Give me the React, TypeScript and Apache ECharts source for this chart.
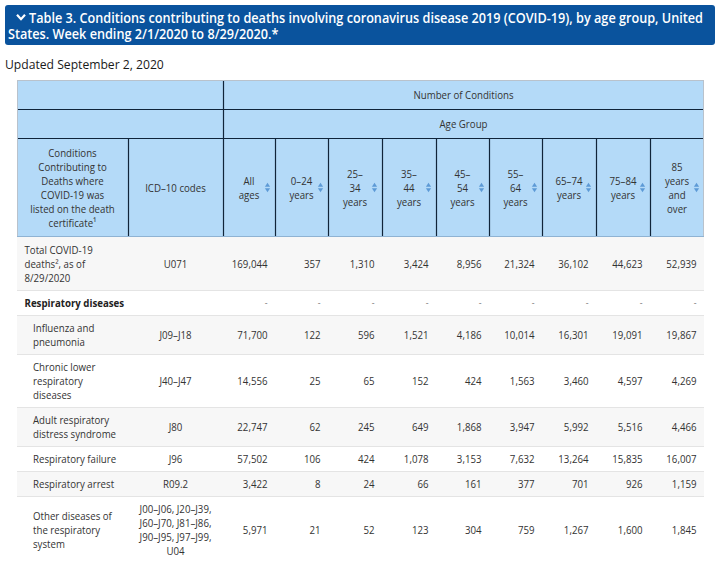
import React, { useEffect, useRef } from "react";
import * as echarts from "echarts";

const titleLine1 =
  "Table 3. Conditions contributing to deaths involving coronavirus disease 2019 (COVID-19), by age group, United";
const titleLine2 = "States. Week ending 2/1/2020 to 8/29/2020.*";
const updatedText = "Updated September 2, 2020";
const topHeader = "Number of Conditions";
const groupHeader = "Age Group";
const columnHeaders = [
  "Conditions\nContributing to\nDeaths where\nCOVID-19 was\nlisted on the death\ncertificate¹",
  "ICD–10 codes",
  "All\nages",
  "0–24\nyears",
  "25–\n34\nyears",
  "35–\n44\nyears",
  "45–\n54\nyears",
  "55–\n64\nyears",
  "65–74\nyears",
  "75–84\nyears",
  "85\nyears\nand\nover",
];
const conditions = [
  "Total COVID-19\ndeaths², as of\n8/29/2020",
  "Respiratory diseases",
  "Influenza and\npneumonia",
  "Chronic lower\nrespiratory\ndiseases",
  "Adult respiratory\ndistress syndrome",
  "Respiratory failure",
  "Respiratory arrest",
  "Other diseases of\nthe respiratory\nsystem",
];
const isSubRow = [false, false, true, true, true, true, true, true];
const isGroupRow = [false, true, false, false, false, false, false, false];
const icdCodes = [
  "U071",
  "",
  "J09–J18",
  "J40–J47",
  "J80",
  "J96",
  "R09.2",
  "J00–J06, J20–J39,\nJ60–J70, J81–J86,\nJ90–J95, J97–J99,\nU04",
];
const allAges = [169044, null, 71700, 14556, 22747, 57502, 3422, 5971];
const ages0to24 = [357, null, 122, 25, 62, 106, 8, 21];
const ages25to34 = [1310, null, 596, 65, 245, 424, 24, 52];
const ages35to44 = [3424, null, 1521, 152, 649, 1078, 66, 123];
const ages45to54 = [8956, null, 4186, 424, 1868, 3153, 161, 304];
const ages55to64 = [21324, null, 10014, 1563, 3947, 7632, 377, 759];
const ages65to74 = [36102, null, 16301, 3460, 5992, 13264, 701, 1267];
const ages75to84 = [44623, null, 19091, 4597, 5516, 15835, 926, 1600];
const ages85plus = [52939, null, 19867, 4269, 4466, 16007, 1159, 1845];

const valueColumns = [
  allAges,
  ages0to24,
  ages25to34,
  ages35to44,
  ages45to54,
  ages55to64,
  ages65to74,
  ages75to84,
  ages85plus,
];

// layout
const colEdges = [17, 128, 223, 275, 328, 382, 436, 489, 542, 596, 650, 704];
const headerEdges = [80, 109, 138, 237];
const LINE_H = 14;
const FONT = "'Open Sans', sans-serif";
const SX = 0.88;
const HEADER_BG = "#b4daf8";
const HEADER_LINE = "#10243a";
const OUTER_LINE = "#b9c2cc";
const TEXT = "#333333";

function txt(
  x: number,
  y: number,
  text: string,
  opts: { align?: string; size?: number; weight?: any; fill?: string; lh?: number; sx?: number } = {}
) {
  const align = opts.align || "left";
  return {
    type: "text",
    x,
    y,
    scaleX: opts.sx || SX,
    silent: true,
    style: {
      text,
      x: 0,
      y: 0,
      fill: opts.fill || TEXT,
      fontFamily: FONT,
      fontSize: opts.size || 11,
      fontWeight: opts.weight || "normal",
      lineHeight: opts.lh || LINE_H,
      align,
      verticalAlign: "middle",
      textAlign: align,
      textVerticalAlign: "middle",
    },
  };
}

function line(x1: number, y1: number, x2: number, y2: number, stroke: string, w = 1) {
  return {
    type: "line",
    silent: true,
    shape: { x1, y1, x2, y2 },
    style: { stroke, lineWidth: w },
  };
}

function buildGraphic() {
  const g: any[] = [];
  const L = colEdges[0];
  const R = colEdges[colEdges.length - 1];

  // title bar
  g.push({
    type: "rect",
    silent: true,
    shape: { x: 5, y: 5, width: 710, height: 40, r: 3 },
    style: { fill: "#0a539d" },
  });
  g.push({
    type: "polyline",
    silent: true,
    shape: { points: [[17, 14.8], [21, 19.2], [25, 14.8]] },
    style: { stroke: "#ffffff", lineWidth: 2.2, fill: null },
  });
  g.push(txt(29, 17.5, titleLine1, { size: 14, weight: 600, fill: "#ffffff", sx: 0.905 }));
  g.push(txt(8, 34, titleLine2, { size: 14, weight: 600, fill: "#ffffff", sx: 0.905 }));
  g.push(txt(5, 64, updatedText, { size: 13.5, fill: "#1a1a1a", weight: 500, sx: 0.9 }));

  // header background
  g.push({
    type: "rect",
    silent: true,
    shape: { x: L, y: headerEdges[0], width: R - L, height: headerEdges[3] - headerEdges[0] },
    style: { fill: HEADER_BG },
  });

  // body rows
  let y = headerEdges[3];
  const rowTops: number[] = [];
  const rowHeights: number[] = [];
  conditions.forEach((c, i) => {
    const lines = Math.max(c.split("\n").length, icdCodes[i] ? icdCodes[i].split("\n").length : 1);
    const h = lines * LINE_H + 11;
    rowTops.push(y);
    rowHeights.push(h);
    y += h;
  });

  conditions.forEach((c, i) => {
    const top = rowTops[i];
    const h = rowHeights[i];
    if (i % 2 === 0) {
      g.push({
        type: "rect",
        silent: true,
        shape: { x: L, y: top, width: R - L, height: h },
        style: { fill: "#f7f7f7" },
      });
    }
    if (i > 0) g.push(line(L, top + 0.5, R, top + 0.5, "#e4e4e4", 1));
    const cy = top + h / 2;
    g.push(
      txt(isSubRow[i] ? 33 : 24.5, cy, c, {
        weight: isGroupRow[i] ? "bold" : "normal",
        fill: isGroupRow[i] ? "#222222" : TEXT,
      })
    );
    if (icdCodes[i]) {
      g.push(txt((colEdges[1] + colEdges[2]) / 2, cy, icdCodes[i], { align: "center" }));
    }
    valueColumns.forEach((col, k) => {
      const v = col[i];
      const xr = colEdges[k + 3] - 7.5;
      if (v === null) {
        g.push(txt(xr, cy, "-", { align: "right", fill: "#8a8a8a", size: 10 }));
      } else {
        g.push(txt(xr, cy, (v as number).toLocaleString("en-US"), { align: "right" }));
      }
    });
  });

  // header texts
  const numCenter = (colEdges[2] + R) / 2;
  g.push(txt(numCenter, (headerEdges[0] + headerEdges[1]) / 2, topHeader, { align: "center" }));
  g.push(txt(numCenter, (headerEdges[1] + headerEdges[2]) / 2, groupHeader, { align: "center" }));
  const hcy = (headerEdges[2] + headerEdges[3]) / 2;
  columnHeaders.forEach((h, k) => {
    const cx = (colEdges[k] + colEdges[k + 1]) / 2;
    g.push(txt(cx, hcy, h, { align: "center" }));
    if (k >= 2) {
      const ix = colEdges[k + 1] - 7.5;
      g.push({
        type: "polygon",
        silent: true,
        shape: { points: [[ix - 2.6, hcy - 0.8], [ix + 2.6, hcy - 0.8], [ix, hcy - 4.8]] },
        style: { fill: "#5d9ad6" },
      });
      g.push({
        type: "polygon",
        silent: true,
        shape: { points: [[ix - 2.6, hcy + 0.8], [ix + 2.6, hcy + 0.8], [ix, hcy + 4.8]] },
        style: { fill: "#5d9ad6" },
      });
    }
  });

  // header grid lines
  g.push(line(L, headerEdges[1] + 0.5, R, headerEdges[1] + 0.5, HEADER_LINE, 1.2));
  g.push(line(L, headerEdges[2] + 0.5, R, headerEdges[2] + 0.5, HEADER_LINE, 1.2));
  g.push(line(colEdges[2] + 0.5, headerEdges[0], colEdges[2] + 0.5, headerEdges[3], HEADER_LINE, 1.2));
  for (let k = 1; k < colEdges.length - 1; k++) {
    if (k === 2) continue;
    g.push(line(colEdges[k] + 0.5, headerEdges[2], colEdges[k] + 0.5, headerEdges[3], HEADER_LINE, 1.2));
  }
  // outer header border
  g.push(line(L, headerEdges[0] + 0.5, R, headerEdges[0] + 0.5, OUTER_LINE, 1));
  g.push(line(L + 0.5, headerEdges[0], L + 0.5, headerEdges[3], OUTER_LINE, 1));
  g.push(line(R - 0.5, headerEdges[0], R - 0.5, headerEdges[3], OUTER_LINE, 1));
  g.push(line(L, headerEdges[3] - 0.5, R, headerEdges[3] - 0.5, "#8fb3d3", 1));

  return g;
}

export default function App() {
  const ref = useRef<HTMLDivElement>(null);
  useEffect(() => {
    document.body.style.margin = "0";
    const chart = echarts.init(ref.current as HTMLDivElement, null, { renderer: "svg" });
    chart.setOption({
      animation: false,
      backgroundColor: "#ffffff",
      graphic: { elements: buildGraphic() },
    });
    return () => chart.dispose();
  }, []);
  return <div ref={ref} style={{ width: 720, height: 562, position: "fixed", left: 0, top: 0 }} />;
}
